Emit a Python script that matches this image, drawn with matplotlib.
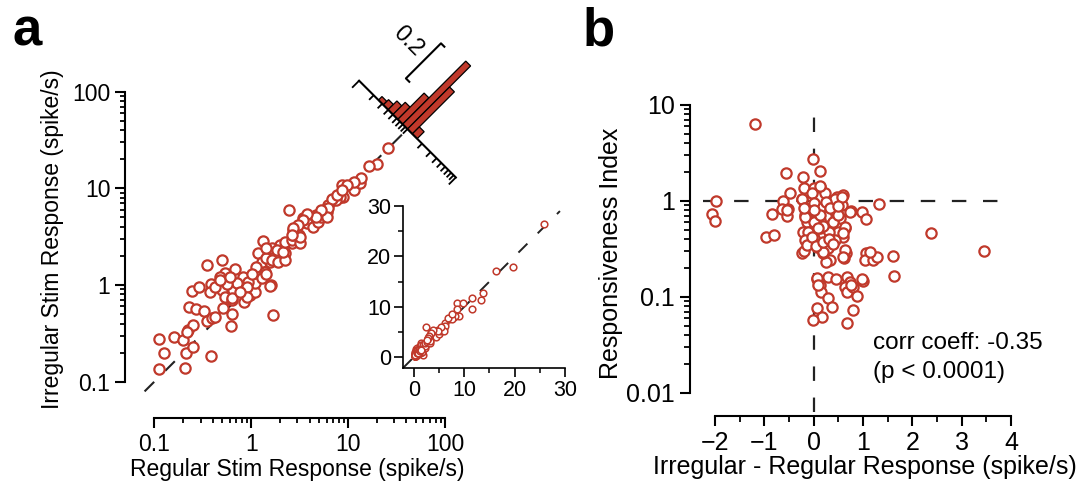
import numpy as np
import matplotlib
matplotlib.use('Agg')
import matplotlib.pyplot as plt
from matplotlib.ticker import FixedLocator, NullFormatter
from matplotlib.transforms import Affine2D, ScaledTranslation

plt.rcParams['font.family'] = ['Liberation Sans', 'DejaVu Sans']
plt.rcParams['axes.linewidth'] = 1.5

RED = '#c0392b'
DASH = (0, (6.5, 7.5))

# panel a: response to regular vs irregular stimulation (spike/s)
reg_resp = [0.113, 0.127, 0.113, 0.158, 0.207, 0.212, 0.252, 0.20, 0.221, 0.249,
            0.385, 0.23, 0.269, 0.328, 0.347, 0.391, 0.243, 0.291, 0.347, 0.497,
            0.385, 0.508, 0.63, 0.62, 1.69, 0.537, 0.68, 0.476, 0.497, 0.537,
            0.653, 0.638, 0.828, 0.85, 0.97, 1.09, 1.09, 0.708, 1.14, 1.18,
            1.28, 1.6, 1.39, 1.56, 1.76, 2.23, 1.98, 1.33, 2.62, 1.63,
            0.933, 0.90, 0.558, 0.42, 0.376, 0.42, 0.476, 1.12, 1.42, 1.42,
            1.63, 1.83, 1.9, 2.23, 2.15, 2.23, 2.62, 2.72, 3.19, 2.68,
            3.13, 3.45, 3.74, 4.38, 4.92, 4.7, 5.3, 6.0, 6.25, 7.0,
            7.9, 8.9, 8.6, 11.6, 13.3, 25.8, 19.7, 16.3, 13.7, 11.5,
            9.8, 8.2, 7.5, 6.8, 6.25, 6.0, 5.3, 4.7, 2.47, 3.74,
            3.45, 3.05, 3.19, 2.72, 2.62, 7.6, 8.6, 1.56, 0.22, 0.61,
            0.63, 0.90, 0.77, 1.01, 1.28, 1.43]
irr_resp = [0.134, 0.20, 0.277, 0.288, 0.138, 0.20, 0.23, 0.27, 0.343, 0.386,
            0.186, 0.597, 0.565, 0.538, 0.425, 0.453, 0.867, 0.96, 1.61, 1.81,
            1.02, 0.574, 0.50, 0.377, 0.49, 1.34, 1.45, 1.22, 0.887, 0.757,
            0.887, 0.70, 1.2, 0.67, 0.79, 0.853, 1.04, 1.04, 1.43, 2.13,
            1.74, 1.0, 1.37, 1.74, 2.13, 2.13, 2.6, 2.85, 2.7, 2.4,
            1.08, 0.96, 1.02, 0.47, 0.853, 0.96, 1.13, 1.52, 1.89, 2.4,
            1.81, 2.3, 1.74, 1.81, 2.21, 2.8, 2.92, 3.29, 2.7, 3.7,
            3.29, 4.9, 4.35, 4.0, 4.52, 5.3, 5.1, 5.7, 6.7, 7.6,
            7.9, 8.2, 10.8, 9.5, 11.3, 26.4, 17.8, 17.0, 12.8, 11.7,
            10.7, 8.1, 7.6, 7.7, 6.2, 5.1, 5.9, 5.1, 5.9, 5.4,
            4.7, 4.17, 3.16, 3.86, 3.29, 8.5, 9.6, 0.98, 0.33, 1.22,
            0.73, 0.76, 0.85, 1.3, 1.17, 1.3]

# histogram of log10(regular / irregular), fraction of cells
ratio_centers = [-0.55, -0.45, -0.35, -0.25, -0.15, -0.05, 0.05, 0.15]
ratio_frac = [0.02, 0.03, 0.05, 0.07, 0.15, 0.36, 0.24, 0.04]

# panel b: irregular - regular response vs responsiveness index
resp_diff = [-1.18, -1.99, -2.07, -2.0, -0.97, -0.80, -0.85, -0.57, -0.62, -0.65,
             -0.53, -0.55, -0.47, -0.21, -0.20, -0.24, -0.22, -0.23, -0.20, -0.02,
             0.13, 0.13, 0.0, 0.23, 0.47, 0.59, 0.57, 0.75, 0.97, 1.06,
             1.33, 2.38, 3.45, 1.61, 1.63, 1.07, 1.05, 1.21, 1.28, 0.65,
             0.62, 0.33, 0.26, 0.18, 0.07, 0.30, 0.45, 0.67, 0.74, 0.99,
             0.63, 0.68, 0.80, 0.87, 0.13, 0.14, 0.30, 0.38, 0.07, 0.16,
             -0.02, 0.80, 0.68, -0.04, 0.13, -0.55, -0.24, -0.18, -0.18, -0.14,
             0.03, 0.0, 0.19, 0.33, 0.43, 0.57, 0.74, 0.53, 0.40, 0.26,
             0.13, 0.0, -0.11, 0.13, 0.33, 0.50, 0.63, 0.60, 0.43, 0.23,
             0.0, -0.18, -0.14, 0.06, 0.30, 0.18, 0.63, 0.60, 1.14, 0.06,
             0.97, 0.75, 0.09, -0.04, 0.05, 0.18, 0.32, 0.32, 0.40, 0.63,
             0.59, 0.40, 0.49, 0.13, 0.18, 0.09, 0.0, -0.17, -0.19, 0.25,
             0.34, 0.49]
resp_index = [6.3, 1.0, 0.73, 0.62, 0.425, 0.44, 0.73, 1.94, 1.0, 0.82,
              0.82, 0.70, 1.2, 1.77, 1.36, 1.04, 0.47, 0.29, 0.30, 2.74,
              2.07, 1.39, 1.36, 1.22, 1.09, 1.15, 0.91, 0.79, 0.77, 0.645,
              0.92, 0.46, 0.30, 0.27, 0.166, 0.29, 0.243, 0.243, 0.263, 0.29,
              0.253, 0.243, 0.233, 0.29, 0.153, 0.163, 0.153, 0.163, 0.144, 0.148,
              0.128, 0.114, 0.128, 0.102, 0.133, 0.114, 0.097, 0.078, 0.076, 0.062,
              0.058, 0.074, 0.054, 1.2, 1.43, 0.8, 1.06, 0.84, 0.71, 0.61,
              0.77, 0.95, 0.87, 0.8, 1.06, 1.11, 0.77, 0.66, 0.63, 0.69,
              0.63, 0.61, 0.48, 0.52, 0.50, 0.48, 0.52, 0.425, 0.39, 0.377,
              0.41, 0.39, 0.35, 0.33, 0.32, 0.297, 0.31, 0.26, 0.297, 0.157,
              0.153, 0.133, 0.133, 0.425, 0.34, 0.37, 0.48, 0.40, 0.36, 0.54,
              0.46, 0.61, 0.71, 0.71, 0.55, 0.52, 0.8, 0.68, 0.84, 0.98,
              0.84, 0.89]


def log_minor(decades):
    return [k * 10.0 ** e for e in decades for k in range(2, 10)]


fig = plt.figure(figsize=(10.84, 4.87), dpi=100)

# ---------------- panel a ----------------
ax = fig.add_axes([125 / 1084, 69 / 487, 345 / 1084, 358 / 487])
ax.set_xscale('log')
ax.set_yscale('log')
ax.plot([10 ** -1.1, 41], [10 ** -1.1, 41], color='#222222', lw=1.5, ls=DASH, zorder=1)
ax.plot(reg_resp, irr_resp, ls='none', marker='o', ms=7.4, mew=1.6,
        mfc='white', mec=RED, zorder=3)
ax.set_xlim(10 ** -1.302, 10 ** 2.258)
ax.set_ylim(10 ** -1.375, 10 ** 2.327)
for side in ('top', 'right'):
    ax.spines[side].set_visible(False)
ax.spines['bottom'].set_bounds(0.1, 100)
ax.spines['left'].set_bounds(0.1, 100)
dec = [0.1, 1, 10, 100]
ax.set_xticks(dec, ['0.1', '1', '10', '100'])
ax.set_yticks(dec, ['0.1', '1', '10', '100'])
ax.xaxis.set_minor_locator(FixedLocator(log_minor((-1, 0, 1))))
ax.yaxis.set_minor_locator(FixedLocator(log_minor((-1, 0, 1))))
ax.xaxis.set_minor_formatter(NullFormatter())
ax.yaxis.set_minor_formatter(NullFormatter())
ax.tick_params(which='major', length=7, width=1.5, labelsize=16.5, direction='out')
ax.tick_params(which='minor', length=3.8, width=1.3, direction='out')
ax.set_xlabel('Regular Stim Response (spike/s)', fontsize=16.5, labelpad=2)
ax.set_ylabel('Irregular Stim Response (spike/s)', fontsize=16.5, labelpad=6)

# rotated histogram sitting on the unity line
hist_trans = Affine2D().scale(68.4, 248).rotate_deg(-45) + ScaledTranslation(41, 41, ax.transData)
ax.bar(ratio_centers, ratio_frac, width=0.1, transform=hist_trans, color=RED,
       edgecolor='black', linewidth=0.9, clip_on=False, zorder=4)
ax.plot([-1, 1], [0, 0], transform=hist_trans, color='black', lw=1.5,
        clip_on=False, zorder=5)
hist_ticks = np.log10(np.r_[np.arange(1, 10) * 0.1, np.arange(1, 11)])
for t in hist_ticks:
    tl = 0.04 if abs(abs(t) - 1) < 1e-6 else 0.026
    ax.plot([t, t], [0, -tl], transform=hist_trans, color='black', lw=1.3,
            clip_on=False, zorder=5, solid_capstyle='butt')
ax.plot([-0.47, -0.54, -0.54, -0.47], [0.14, 0.14, 0.34, 0.34], transform=hist_trans,
        color='black', lw=1.5, clip_on=False, zorder=5)
ax.text(-0.9, 0.25, '0.2', transform=hist_trans, rotation=-45, ha='center',
        va='center', fontsize=17)

# linear-scale inset
axi = fig.add_axes([403 / 1084, 119 / 487, 167 / 1084, 168 / 487])
axi.set_facecolor('none')
axi.plot([-2.2, 29], [-2.2, 29], color='#222222', lw=1.4, ls=DASH, zorder=1)
axi.plot(reg_resp, irr_resp, ls='none', marker='o', ms=4.8, mew=1.1,
         mfc='white', mec=RED, zorder=3)
axi.set_xlim(-2.19, 31.0)
axi.set_ylim(-2.19, 31.2)
for side in ('top', 'right'):
    axi.spines[side].set_visible(False)
axi.spines['bottom'].set_bounds(-2.19, 30)
axi.spines['left'].set_bounds(-2.19, 30)
axi.spines['bottom'].set_linewidth(1.2)
axi.spines['left'].set_linewidth(1.2)
axi.set_xticks([0, 10, 20, 30])
axi.set_yticks([0, 10, 20, 30])
axi.set_xticks([5, 15, 25], minor=True)
axi.set_yticks([5, 15, 25], minor=True)
axi.tick_params(which='major', length=6.5, width=1.2, labelsize=15.5, direction='out', pad=2)
axi.tick_params(which='minor', length=3.5, width=1.1, direction='out')

# ---------------- panel b ----------------
bx = fig.add_axes([690 / 1084, 71 / 487, 350 / 1084, 326 / 487])
bx.set_yscale('log')
bx.plot([0, 0], [10 ** -2.2, 10], color='#222222', lw=1.6, ls=DASH, zorder=1)
bx.plot([-2.25, 4], [1, 1], color='#222222', lw=1.6, ls=DASH, zorder=1)
bx.plot(resp_diff, resp_index, ls='none', marker='o', ms=7.4, mew=1.6,
        mfc='white', mec=RED, zorder=3)
bx.set_xlim(-2.507, 4.588)
bx.set_ylim(10 ** -2.24, 10 ** 1.156)
for side in ('top', 'right'):
    bx.spines[side].set_visible(False)
bx.spines['bottom'].set_bounds(-2, 4)
bx.spines['left'].set_bounds(0.01, 10)
bx.set_xticks(range(-2, 5))
bx.set_xticks(np.arange(-1.5, 4, 1.0), minor=True)
bx.set_yticks([0.01, 0.1, 1, 10], ['0.01', '0.1', '1', '10'])
bx.yaxis.set_minor_locator(FixedLocator(log_minor((-2, -1, 0))))
bx.yaxis.set_minor_formatter(NullFormatter())
bx.tick_params(which='major', length=7.5, width=1.5, labelsize=18, direction='out')
bx.tick_params(which='minor', length=4, width=1.3, direction='out')
bx.set_xlabel('Irregular - Regular Response (spike/s)', fontsize=18, labelpad=0)
bx.set_ylabel('Responsiveness Index', fontsize=18, labelpad=2)
bx.text(1.2, 10 ** -1.48, 'corr coeff: -0.35', fontsize=17.5, va='center')
bx.text(1.2, 10 ** -1.78, '(p < 0.0001)', fontsize=17.5, va='center')

fig.text(12 / 1084, 1 - 45 / 487, 'a', fontsize=38, fontweight='bold')
fig.text(583 / 1084, 1 - 45 / 487, 'b', fontsize=38, fontweight='bold')

fig.savefig('out.png', dpi=100)
